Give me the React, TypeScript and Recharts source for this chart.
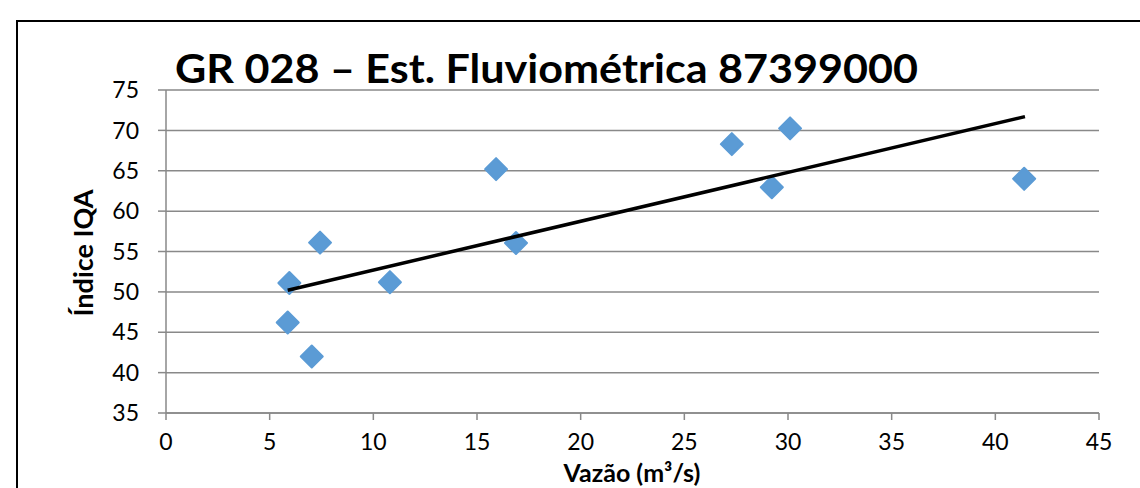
import React from 'react';
import { ScatterChart, Scatter, XAxis, YAxis, CartesianGrid } from 'recharts';

// Vazão (m³/s) e Índice IQA medidos
const vazao = [5.95, 5.87, 7.03, 7.43, 10.8, 15.92, 16.88, 27.29, 30.1, 29.22, 41.39];
const iqa = [51.1, 46.2, 42.0, 56.1, 51.2, 65.2, 56.05, 68.3, 70.25, 62.95, 64.0];

// linha de tendência (extremos)
const trendX = [5.87, 41.43];
const trendY = [50.2, 71.7];

const xTicks = [0, 5, 10, 15, 20, 25, 30, 35, 40, 45];
const yTicks = [35, 40, 45, 50, 55, 60, 65, 70, 75];

const points = vazao.map((x, i) => ({ x, y: iqa[i] }));
const trend = trendX.map((x, i) => ({ x, y: trendY[i] }));

const FONT = 'Lato, "Open Sans", sans-serif';
const GRID = '#898989';

const Diamond = (props: any) => {
  const { cx, cy } = props;
  if (cx == null || cy == null) return null;
  const r = 11;
  return (
    <path
      d={`M${cx},${cy - r} L${cx + r},${cy} L${cx},${cy + r} L${cx - r},${cy} Z`}
      fill="#5B9BD5"
      stroke="#5B9BD5"
      strokeWidth={2}
      strokeLinejoin="round"
    />
  );
};

const tickStyle = { fill: '#000', fontSize: 23, fontFamily: FONT };

export default function App() {
  return (
    <div style={{ position: 'fixed', left: 0, top: 0, width: 1140, height: 488, background: '#fff', overflow: 'hidden' }}>
      <div
        style={{
          position: 'absolute',
          left: 16,
          top: 20,
          width: 1200,
          height: 600,
          border: '2.5px solid #000',
          boxSizing: 'border-box',
        }}
      />
      <div style={{ position: 'absolute', left: 0, top: 0 }}>
        <ScatterChart width={1140} height={488} margin={{ top: 90, right: 41, left: 0, bottom: 0 }}>
          <CartesianGrid vertical={false} stroke={GRID} strokeWidth={1.5} />
          <XAxis
            type="number"
            dataKey="x"
            domain={[0, 45]}
            ticks={xTicks}
            height={75}
            stroke={GRID}
            strokeWidth={1.5}
            tickSize={7}
            tickMargin={14}
            tick={tickStyle}
            allowDataOverflow
          />
          <YAxis
            type="number"
            dataKey="y"
            domain={[35, 75]}
            ticks={yTicks}
            width={166}
            stroke={GRID}
            strokeWidth={1.5}
            tickSize={8}
            tickMargin={19}
            tick={tickStyle}
            allowDataOverflow
          />
          <Scatter data={points} shape={<Diamond />} isAnimationActive={false} />
          <Scatter
            data={trend}
            line={{ stroke: '#000', strokeWidth: 3.5 }}
            shape={() => null}
            isAnimationActive={false}
          />
        </ScatterChart>
      </div>
      <svg width={1140} height={488} style={{ position: 'absolute', left: 0, top: 0, pointerEvents: 'none' }}>
        <text
          x={175}
          y={83}
          textLength={743}
          lengthAdjust="spacingAndGlyphs"
          fontFamily={FONT}
          fontWeight="bold"
          fontSize={41}
          fill="#000"
        >
          GR 028 – Est. Fluviométrica 87399000
        </text>
        <text
          x={0}
          y={0}
          transform="translate(93,253) rotate(-90)"
          textAnchor="middle"
          fontFamily={FONT}
          fontWeight="bold"
          fontSize={27}
          fill="#000"
        >
          Índice IQA
        </text>
        <text
          x={632}
          y={482}
          textAnchor="middle"
          fontFamily={FONT}
          fontWeight="bold"
          fontSize={25}
          fill="#000"
        >
          Vazão (m³/s)
        </text>
      </svg>
    </div>
  );
}
